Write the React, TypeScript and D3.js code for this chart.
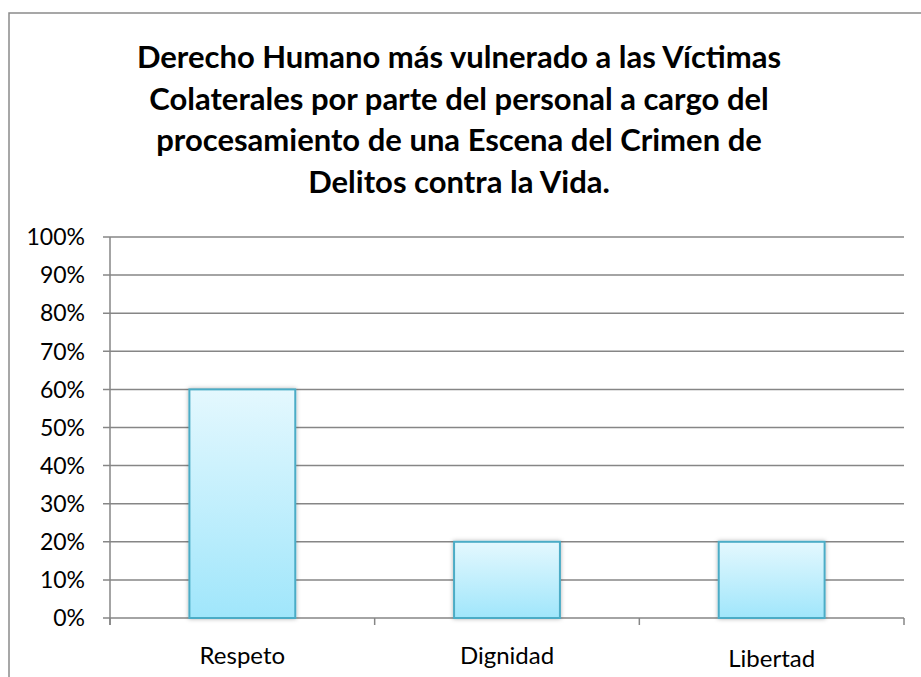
import React from "react";
import * as d3 from "d3";

const categories = ["Respeto", "Dignidad", "Libertad"];
const values = [0.6, 0.2, 0.2];
const yTicks = [0, 0.1, 0.2, 0.3, 0.4, 0.5, 0.6, 0.7, 0.8, 0.9, 1.0];
const titleLines = [
  "Derecho Humano más vulnerado a las Víctimas",
  "Colaterales por parte del personal a cargo del",
  "procesamiento de una Escena del Crimen de",
  "Delitos contra la Vida.",
];

const W = 921;
const H = 677;
const FONT = "Lato, 'Open Sans', 'Noto Sans', sans-serif";

export default function App() {
  const x0 = 110, x1 = 904, yTop = 237, yBot = 618;
  const x = d3.scaleBand<string>().domain(categories).range([x0, x1]).paddingInner(0.6).paddingOuter(0.3);
  const xb = d3.scaleBand<string>().domain(categories).range([x0, x1]);
  const y = d3.scaleLinear().domain([0, 1]).range([yBot, yTop]);
  const fmt = d3.format(".0%");
  const grid = "#868686";

  return (
    <svg width={W} height={H} style={{ position: "absolute", left: 0, top: 0, background: "#fff" }}
      fontFamily={FONT}>
      <defs>
        <linearGradient id="barGrad" x1="0" y1="0" x2="0" y2="1">
          <stop offset="0%" stopColor="#E4F8FE" />
          <stop offset="100%" stopColor="#A0E6FB" />
        </linearGradient>
        <filter id="shadow" x="-20%" y="-10%" width="140%" height="120%">
          <feDropShadow dx="0" dy="0" stdDeviation="2" floodColor="#000" floodOpacity="0.3" />
        </filter>
      </defs>
      <rect x={0} y={0} width={W} height={H} fill="#fff" />
      {/* frame */}
      <path d={`M9,${H} V13 H${W}`} fill="none" stroke="#8a8a8a" strokeWidth={1.5} />
      {/* title */}
      {titleLines.map((t, i) => (
        <text key={i} x={459} y={68 + i * 41.5} textAnchor="middle" fontWeight="bold" fontSize={31} fill="#000">
          {t}
        </text>
      ))}
      {/* gridlines + y ticks */}
      {yTicks.map((t) => (
        <g key={t}>
          <line x1={x0 - 7} x2={x1} y1={y(t)} y2={y(t)} stroke={grid} strokeWidth={1.5} />
          <text x={85} y={y(t)} dy="0.36em" textAnchor="end" fontSize={23} fill="#000">
            {fmt(t)}
          </text>
        </g>
      ))}
      {/* y axis */}
      <line x1={x0} x2={x0} y1={yTop} y2={yBot + 7} stroke={grid} strokeWidth={1.5} />
      {/* x ticks */}
      {[...categories.map((c) => xb(c)!), x1].map((px, i) => (
        <line key={i} x1={px} x2={px} y1={yBot} y2={yBot + 7} stroke={grid} strokeWidth={1.5} />
      ))}
      {/* bars */}
      {categories.map((c, i) => (
        <rect key={c} x={x(c)} y={y(values[i])} width={x.bandwidth()} height={yBot - y(values[i])}
          fill="url(#barGrad)" stroke="#4BACC6" strokeWidth={2} filter="url(#shadow)" />
      ))}
      {/* category labels */}
      {categories.map((c, i) => (
        <text key={c} x={xb(c)! + xb.bandwidth() / 2} y={i === 2 ? 658 : 655} dy="0.36em" textAnchor="middle" fontSize={24} fill="#000">
          {c}
        </text>
      ))}
    </svg>
  );
}
